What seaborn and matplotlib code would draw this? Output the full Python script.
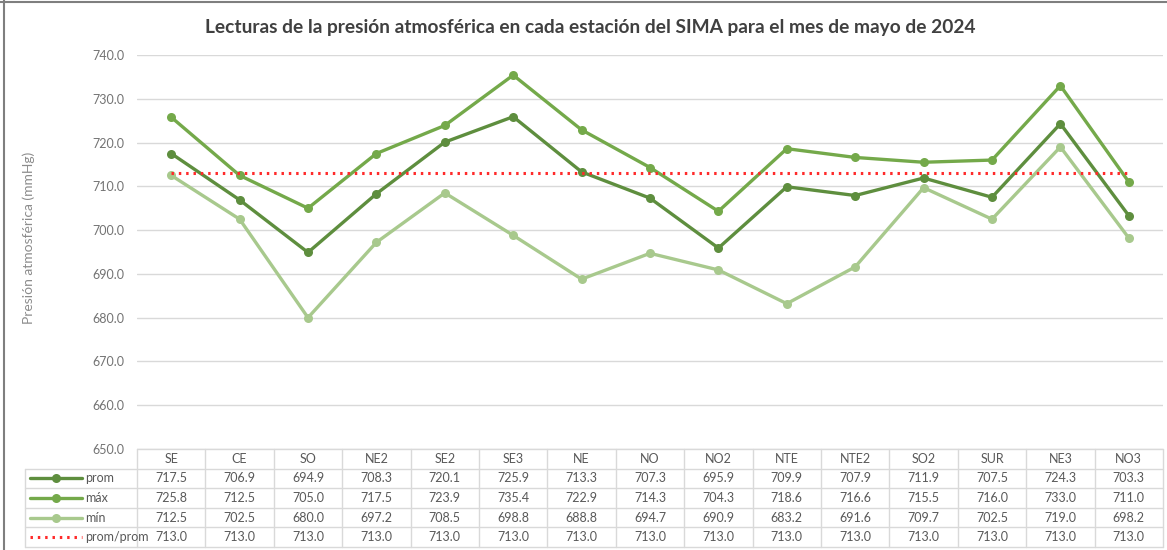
import numpy as np
import pandas as pd
import matplotlib.pyplot as plt
from matplotlib.lines import Line2D
import seaborn as sns

sns.set_style('white')
plt.rcParams['font.family'] = ['Lato', 'DejaVu Sans']

estaciones = ['SE', 'CE', 'SO', 'NE2', 'SE2', 'SE3', 'NE', 'NO', 'NO2',
              'NTE', 'NTE2', 'SO2', 'SUR', 'NE3', 'NO3']
prom = [717.5, 706.9, 694.9, 708.3, 720.1, 725.9, 713.3, 707.3, 695.9,
        709.9, 707.9, 711.9, 707.5, 724.3, 703.3]
maximo = [725.8, 712.5, 705.0, 717.5, 723.9, 735.4, 722.9, 714.3, 704.3,
          718.6, 716.6, 715.5, 716.0, 733.0, 711.0]
minimo = [712.5, 702.5, 680.0, 697.2, 708.5, 698.8, 688.8, 694.7, 690.9,
          683.2, 691.6, 709.7, 702.5, 719.0, 698.2]
prom_prom = [713.0] * 15
y_ticks = [650, 660, 670, 680, 690, 700, 710, 720, 730, 740]

C_PROM = '#5e8e3e'
C_MAX = '#74a94a'
C_MIN = '#a8c98d'
C_RED = '#ff2a2a'
GRID = '#d9d9d9'
TXT = '#595959'

df = pd.DataFrame({'idx': np.arange(len(estaciones)), 'estacion': estaciones,
                   'prom': prom, 'max': maximo, 'min': minimo,
                   'pp': prom_prom})

W, H = 1167, 550
fig = plt.figure(figsize=(W / 100, H / 100), dpi=100)

left, right = 137 / W, 1163 / W
ax = fig.add_axes([left, 1 - 449 / H, right - left, (449 - 55) / H])

series = [('prom', 'prom', C_PROM), ('max', 'máx', C_MAX), ('min', 'mín', C_MIN)]
for col, lab, c in series:
    sns.lineplot(data=df, x='idx', y=col, ax=ax, color=c, linewidth=2.4,
                 marker='o', markersize=6.5, markeredgewidth=0, sort=False,
                 zorder=3)
sns.lineplot(data=df, x='idx', y='pp', ax=ax, color=C_RED, linewidth=2.2,
             linestyle=(0, (0.8, 1.6)), zorder=4)

ax.set_xlim(-0.5, len(estaciones) - 0.5)
ax.set_ylim(650, 740)
ax.set_yticks(y_ticks)
ax.set_yticklabels([f'{v:.1f}' for v in y_ticks], color='#737373', fontsize=9)
ax.set_xticks([])
ax.set_xlabel('')
ax.set_ylabel('Presión atmosférica (mmHg)', color='#8c8c8c', fontsize=10)
ax.yaxis.set_label_coords((35 - 137) / (1163 - 137), (449 - 238) / 394)
ax.tick_params(axis='y', length=0, pad=9)
for y in y_ticks:
    ax.axhline(y, color=GRID, linewidth=1, zorder=0)
for s in ax.spines.values():
    s.set_visible(False)

# tabla de datos
tax = fig.add_axes([left, 1 - 547 / H, right - left, (547 - 449) / H])
tax.set_xlim(-0.5, len(estaciones) - 0.5)
tax.set_ylim(5, 0)
tax.axis('off')
label_x0 = -0.5 - (137 - 25) / ((1163 - 137) / len(estaciones))

rows = [('prom', prom, C_PROM, '-'), ('máx', maximo, C_MAX, '-'),
        ('mín', minimo, C_MIN, '-'), ('prom/prom', prom_prom, C_RED, ':')]
# encabezado
for i, est in enumerate(estaciones):
    tax.text(i, 0.5, est, ha='center', va='center', fontsize=9, color=TXT)
for r, (lab, vals, c, ls) in enumerate(rows, start=1):
    for i, v in enumerate(vals):
        tax.text(i, r + 0.5, f'{v:.1f}', ha='center', va='center',
                 fontsize=9, color=TXT)
    kx = [label_x0 + 0.07, label_x0 + 0.45, label_x0 + 0.83]
    if ls == ':':
        tax.add_line(Line2D([kx[0], kx[2]], [r + 0.5, r + 0.5], color=c,
                            linewidth=2.2, linestyle=(0, (0.8, 1.6)),
                            clip_on=False))
    else:
        tax.add_line(Line2D([kx[0], kx[2]], [r + 0.5, r + 0.5], color=c,
                            linewidth=2.4, clip_on=False))
        tax.add_line(Line2D([kx[1]], [r + 0.5], color=c, marker='o',
                            markersize=6.5, markeredgewidth=0, clip_on=False))
    tax.text(kx[2] + 0.05, r + 0.5, lab, ha='left', va='center', fontsize=9,
             color=TXT)

# lineas de la tabla
gl = dict(color=GRID, linewidth=1, clip_on=False)
tax.add_line(Line2D([-0.5, 14.5], [0, 0], **gl))
for r in range(1, 6):
    tax.add_line(Line2D([label_x0, 14.5], [r, r], **gl))
for i in range(16):
    tax.add_line(Line2D([i - 0.5, i - 0.5], [0, 5], **gl))
tax.add_line(Line2D([label_x0, label_x0], [1, 5], **gl))

fig.suptitle('Lecturas de la presión atmosférica en cada estación del SIMA '
             'para el mes de mayo de 2024', x=590 / W, y=1 - 28 / H,
             va='center', fontsize=13.8, fontweight='bold', color='#404040')

# marco
fig.add_artist(Line2D([4 / W, 4 / W], [0, 1], color='#7f7f7f', linewidth=1.5))
fig.add_artist(Line2D([0, 1], [1 - 1.5 / H, 1 - 1.5 / H], color='#7f7f7f',
                      linewidth=1.5))

fig.savefig('out.png', dpi=100)
